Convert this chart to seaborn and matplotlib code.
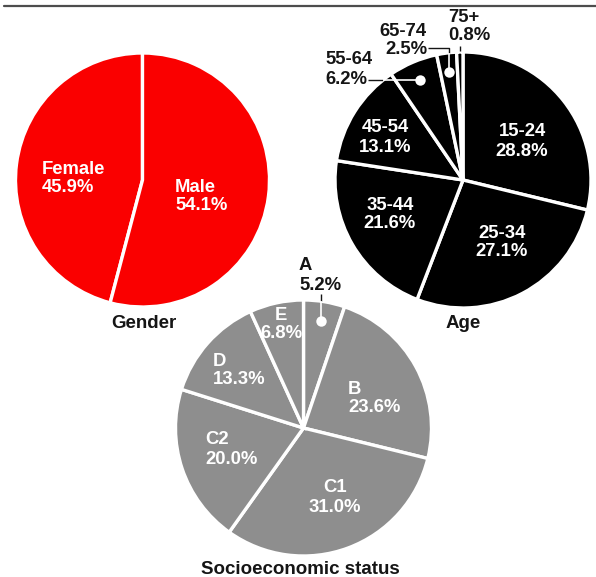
import matplotlib
matplotlib.use('Agg')
import matplotlib.pyplot as plt
import numpy as np
import seaborn as sns

gender_labels = ['Female', 'Male']
gender_values = [45.9, 54.1]
age_labels = ['15-24', '25-34', '35-44', '45-54', '55-64', '65-74', '75+']
age_values = [28.8, 27.1, 21.6, 13.1, 6.2, 2.5, 0.8]
ses_labels = ['A', 'B', 'C1', 'C2', 'D', 'E']
ses_values = [5.2, 23.6, 31.0, 20.0, 13.3, 6.8]

sns.set_theme(style='white')
plt.rcParams['font.family'] = ['Liberation Sans', 'DejaVu Sans']

W, H = 596, 577
fig = plt.figure(figsize=(W / 100, H / 100), dpi=100)
ax = fig.add_axes([0, 0, 1, 1])


def py(y):
    # pixel rows from the top -> data y
    return H - y


RED, BLACK, GREY, INK = '#fa0000', '#000000', '#8e8e8e', '#151515'
wp = dict(edgecolor='white', linewidth=2.4)

g_wedges, _ = ax.pie(gender_values, colors=[RED] * len(gender_values), startangle=90,
                     counterclock=True, center=(142.5, py(180)), radius=127, wedgeprops=wp)
a_wedges, _ = ax.pie(age_values, colors=[BLACK] * len(age_values), startangle=90,
                     counterclock=False, center=(463, py(180)), radius=128, wedgeprops=wp)
s_wedges, _ = ax.pie(ses_values, colors=[GREY] * len(ses_values), startangle=90,
                     counterclock=False, center=(303.5, py(428)), radius=128, wedgeprops=wp)

# label placement: (x, y of first line, alignment, inside wedge?)
gender_pos = {'Female': (42, 169, 'left', True), 'Male': (175, 187, 'left', True)}
age_pos = {'15-24': (522, 132, 'center', True), '25-34': (502, 233, 'center', True),
           '35-44': (390, 205, 'center', True), '45-54': (385, 128, 'center', True),
           '55-64': (325, 60, 'left', False), '65-74': (427, 31, 'right', False),
           '75+': (448, 17, 'left', False)}
ses_pos = {'A': (299, 266, 'left', False), 'B': (348, 389, 'left', True),
           'C1': (335, 488, 'center', True), 'C2': (205, 440, 'left', True),
           'D': (213, 361, 'left', True), 'E': (281, 315, 'center', True)}


def put_labels(labels, values, pos):
    for name, val in zip(labels, values):
        x, y, ha, inside = pos[name]
        col = 'white' if inside else INK
        ax.text(x, py(y), name, ha=ha, va='center', color=col, fontsize=13.3, fontweight='bold')
        ax.text(x, py(y + 19), f'{val:.1f}%', ha=ha, va='center', color=col,
                fontsize=13.3, fontweight='bold')


put_labels(gender_labels, gender_values, gender_pos)
put_labels(age_labels, age_values, age_pos)
put_labels(ses_labels, ses_values, ses_pos)


def dot_xy(wedge, frac=0.85):
    mid = np.deg2rad((wedge.theta1 + wedge.theta2) / 2)
    cx, cy = wedge.center
    return cx + frac * wedge.r * np.cos(mid), cy + frac * wedge.r * np.sin(mid)


lk = dict(color=INK, lw=1, solid_capstyle='butt')
wk = dict(color='white', lw=1.2, solid_capstyle='butt')

# 55-64: horizontal leader into the wedge
w = a_wedges[age_labels.index('55-64')]
dx, dy = dot_xy(w)
cx, cy = w.center
ex = cx - np.sqrt(w.r ** 2 - (dy - cy) ** 2)
ax.plot([368, ex], [dy, dy], **lk)
ax.plot([ex, dx], [dy, dy], **wk)
ax.plot(dx, dy, 'o', color='white', markersize=7.5, markeredgewidth=0)

# 65-74: elbow leader down into the wedge
w = a_wedges[age_labels.index('65-74')]
dx, dy = dot_xy(w)
ey = cy + np.sqrt(w.r ** 2 - (dx - cx) ** 2)
ax.plot([428, dx, dx], [py(48), py(48), ey], **lk)
ax.plot([dx, dx], [ey, dy], **wk)
ax.plot(dx, dy, 'o', color='white', markersize=7.5, markeredgewidth=0)

# 75+: short tick
w = a_wedges[age_labels.index('75+')]
mid = np.deg2rad((w.theta1 + w.theta2) / 2)
tx = cx + w.r * np.cos(mid)
ax.plot([tx, tx], [py(46), cy + w.r + 1], **lk)

# A: tick down into the wedge
w = s_wedges[ses_labels.index('A')]
dx, dy = dot_xy(w)
scx, scy = w.center
ey = scy + np.sqrt(w.r ** 2 - (dx - scx) ** 2)
ax.plot([dx, dx], [py(294), ey], **lk)
ax.plot([dx, dx], [ey, dy], **wk)
ax.plot(dx, dy, 'o', color='white', markersize=7.5, markeredgewidth=0)

# titles
tk = dict(ha='center', va='center', color=INK, fontsize=13.5, fontweight='bold')
ax.text(144, py(323), 'Gender', **tk)
ax.text(463, py(323), 'Age', **tk)
ax.text(300, py(570), 'Socioeconomic status', **tk)

ax.plot([4, W], [py(6), py(6)], color='#4d4d4d', lw=1.6)

ax.set_xlim(0, W)
ax.set_ylim(0, H)
ax.axis('off')
fig.savefig('out.png', dpi=100)
